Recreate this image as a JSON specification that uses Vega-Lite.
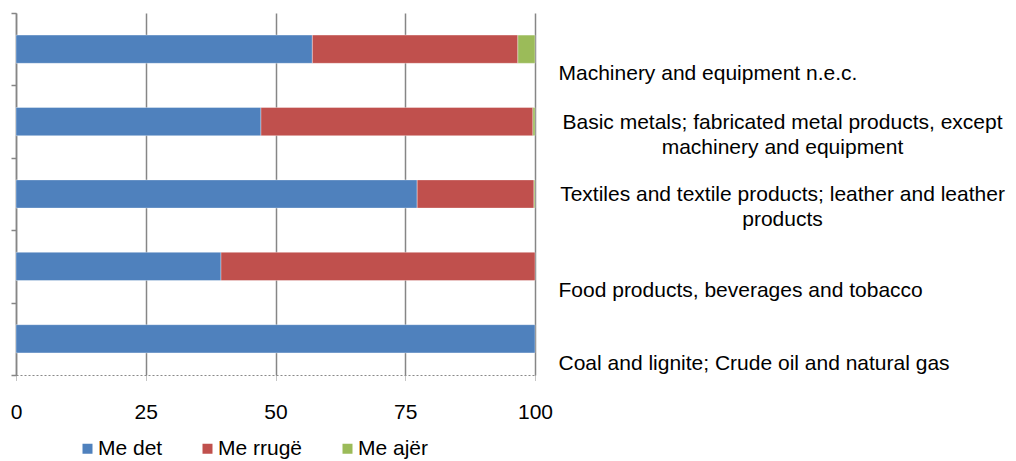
{
  "$schema": "https://vega.github.io/schema/vega-lite/v6.json",
  "width": 519,
  "height": 362,
  "autosize": {"type": "none"},
  "padding": {"left": 16, "top": 13, "right": 481, "bottom": 86},
  "background": "white",
  "config": {"font": "Liberation Sans", "view": {"stroke": null}},
  "data": {
    "values": [
      {"cat": "Machinery and equipment n.e.c.", "mode": "Me det", "ord": 1, "pct": 57.1},
      {"cat": "Machinery and equipment n.e.c.", "mode": "Me rrugë", "ord": 2, "pct": 39.6},
      {"cat": "Machinery and equipment n.e.c.", "mode": "Me ajër", "ord": 3, "pct": 3.3},
      {"cat": "Basic metals; fabricated metal products, except machinery and equipment", "mode": "Me det", "ord": 1, "pct": 47.2},
      {"cat": "Basic metals; fabricated metal products, except machinery and equipment", "mode": "Me rrugë", "ord": 2, "pct": 52.4},
      {"cat": "Basic metals; fabricated metal products, except machinery and equipment", "mode": "Me ajër", "ord": 3, "pct": 0.4},
      {"cat": "Textiles and textile products; leather and leather products", "mode": "Me det", "ord": 1, "pct": 77.3},
      {"cat": "Textiles and textile products; leather and leather products", "mode": "Me rrugë", "ord": 2, "pct": 22.5},
      {"cat": "Textiles and textile products; leather and leather products", "mode": "Me ajër", "ord": 3, "pct": 0.2},
      {"cat": "Food products, beverages and tobacco", "mode": "Me det", "ord": 1, "pct": 39.5},
      {"cat": "Food products, beverages and tobacco", "mode": "Me rrugë", "ord": 2, "pct": 60.5},
      {"cat": "Coal and lignite; Crude oil and natural gas", "mode": "Me det", "ord": 1, "pct": 100}
    ]
  },
  "layer": [
    {
      "mark": {"type": "bar", "height": {"band": 0.39}, "stroke": "#ffffff", "strokeWidth": 0.6, "strokeOpacity": 0.6},
      "encoding": {
        "y": {
          "field": "cat", "type": "nominal",
          "sort": ["Machinery and equipment n.e.c.", "Basic metals; fabricated metal products, except machinery and equipment", "Textiles and textile products; leather and leather products", "Food products, beverages and tobacco", "Coal and lignite; Crude oil and natural gas"],
          "scale": {"type": "band", "paddingInner": 0, "paddingOuter": 0},
          "axis": {"orient": "left", "labels": false, "title": null, "grid": false, "domain": true, "domainColor": "#868686", "domainWidth": 1.5, "ticks": true, "tickBand": "extent", "tickSize": 5, "tickColor": "#868686", "tickWidth": 1.5}
        },
        "x": {
          "field": "pct", "type": "quantitative", "stack": "zero",
          "scale": {"domain": [0, 100], "nice": false},
          "axis": {"values": [0, 25, 50, 75, 100], "title": null, "grid": true, "gridColor": "#868686", "gridWidth": 1.5, "domainColor": "#8a8a8a", "domainDash": [2, 2], "domainWidth": 1.2, "tickColor": "#8a8a8a", "tickDash": [1, 1], "tickSize": 5, "labelFontSize": 21, "labelColor": "#000000", "labelPadding": 21, "labelFlush": false}
        },
        "color": {
          "field": "mode", "type": "nominal",
          "scale": {"domain": ["Me det", "Me rrugë", "Me ajër"], "range": ["#4F81BD", "#C0504D", "#9BBB59"]},
          "legend": {"orient": "none", "legendX": 61, "legendY": 425, "direction": "horizontal", "title": null, "symbolType": "square", "symbolSize": 100, "symbolStrokeWidth": 0, "labelFontSize": 21, "labelColor": "#000000", "labelOffset": 0, "columnPadding": 34}
        },
        "order": {"field": "ord", "type": "quantitative"}
      }
    },
    {
      "mark": {"type": "point", "opacity": 0},
      "encoding": {
        "y": {
          "field": "cat", "type": "nominal",
          "sort": ["Machinery and equipment n.e.c.", "Basic metals; fabricated metal products, except machinery and equipment", "Textiles and textile products; leather and leather products", "Food products, beverages and tobacco", "Coal and lignite; Crude oil and natural gas"],
          "scale": {"type": "band", "paddingInner": 0, "paddingOuter": 0},
          "axis": {
            "orient": "right", "title": null, "domain": false, "ticks": false, "grid": false,
            "labelFontSize": 21, "labelColor": "#000000", "labelLimit": 0, "labelLineHeight": 25,
            "labelBaseline": "bottom",
            "labelOffset": {"condition": {"test": "indexof(datum.value, 'except') >= 0 || indexof(datum.value, 'leather') >= 0", "value": 11}, "value": 35},
            "labelAlign": {"condition": {"test": "indexof(datum.value, 'except') >= 0 || indexof(datum.value, 'leather') >= 0", "value": "center"}, "value": "left"},
            "labelPadding": {"condition": {"test": "indexof(datum.value, 'except') >= 0 || indexof(datum.value, 'leather') >= 0", "value": 247}, "value": 23},
            "labelExpr": "indexof(datum.value, 'except') >= 0 ? ['Basic metals; fabricated metal products, except', 'machinery and equipment'] : indexof(datum.value, 'leather') >= 0 ? ['Textiles and textile products; leather and leather', 'products'] : datum.value"
          }
        }
      }
    }
  ],
  "resolve": {"axis": {"y": "independent"}}
}
